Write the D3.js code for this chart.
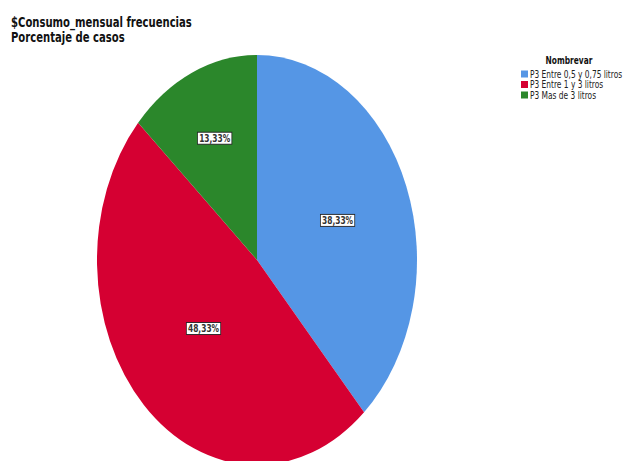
<!DOCTYPE html>
<html lang="es">
<head>
<meta charset="UTF-8">
<title>$Consumo_mensual frecuencias</title>
<script src="https://d3js.org/d3.v7.min.js"></script>
<style>
  body { margin: 0; background: #fff; }
  svg text { font-family: "DejaVu Sans Condensed", "DejaVu Sans", sans-serif; }
</style>
</head>
<body>
<script>
// data
const categories = ['P3 Entre 0,5 y 0,75 litros', 'P3 Entre 1 y 3 litros', 'P3 Mas de 3 litros'];
const percents = [38.33, 48.33, 13.33];
const colors = ['#5596e5', '#d50032', '#2b872b'];
const titleLines = ['$Consumo_mensual frecuencias', 'Porcentaje de casos'];
const legendTitle = 'Nombrevar';

const W = 627, H = 461;
const cx = 257, cy = 260, rx = 160, ry = 205;
const squeeze = 0.83; // narrow the font to look like the original condensed face

const svg = d3.select('body').append('svg')
    .attr('width', W).attr('height', H);

// title
svg.append('g')
    .attr('transform', 'translate(11,0) scale(0.8,1)')
  .selectAll('text')
    .data(titleLines)
  .enter().append('text')
    .attr('x', 0)
    .attr('y', (d, i) => 27 + i * 15)
    .attr('font-size', 14)
    .attr('font-weight', 'bold')
    .attr('fill', '#111')
    .text(d => d);

// pie (drawn as a circle, then stretched vertically)
const data = categories.map((c, i) => ({ cat: c, value: percents[i], color: colors[i] }));
const pie = d3.pie().value(d => d.value).sort(null);
const arcs = pie(data);
const arc = d3.arc().innerRadius(0).outerRadius(rx);

const pieG = svg.append('g')
    .attr('transform', `translate(${cx},${cy}) scale(1,${ry / rx})`);

pieG.selectAll('path')
    .data(arcs)
  .enter().append('path')
    .attr('d', arc)
    .attr('fill', d => d.data.color)
    .attr('stroke', 'none');

// labels near the area centroid of each sector
const fmt = v => v.toFixed(2).replace('.', ',') + '%';
const labelG = svg.append('g');
arcs.forEach(a => {
  const theta = a.endAngle - a.startAngle;
  const f = 0.1 + 0.85 * 4 * Math.sin(theta / 2) / (3 * theta);
  const mid = (a.startAngle + a.endAngle) / 2;
  const x = cx + Math.sin(mid) * rx * f;
  const y = cy - Math.cos(mid) * ry * f;
  const g = labelG.append('g').attr('transform', `translate(${x},${y}) scale(${squeeze},1)`);
  const t = g.append('text')
      .attr('text-anchor', 'middle')
      .attr('dy', '0.36em')
      .attr('font-size', 10)
      .attr('font-weight', 'bold')
      .attr('fill', '#333')
      .text(fmt(a.data.value));
  const bb = t.node().getBBox();
  g.insert('rect', 'text')
      .attr('x', bb.x - 2).attr('y', -6)
      .attr('width', bb.width + 4).attr('height', 12)
      .attr('fill', '#fff')
      .attr('stroke', '#222')
      .attr('stroke-width', 0.9);
});

// legend
const legend = svg.append('g').attr('transform', 'translate(521,0)');
legend.append('text')
    .attr('transform', `translate(48,64) scale(${squeeze},1)`)
    .attr('text-anchor', 'middle')
    .attr('font-size', 10)
    .attr('font-weight', 'bold')
    .attr('fill', '#111')
    .text(legendTitle);

const items = legend.selectAll('.item')
    .data(data)
  .enter().append('g')
    .attr('class', 'item')
    .attr('transform', (d, i) => `translate(0,${70.5 + i * 10.5})`);

items.append('rect')
    .attr('width', 7).attr('height', 7)
    .attr('fill', d => d.color);

items.append('text')
    .attr('transform', `translate(9,7) scale(${squeeze},1)`)
    .attr('font-size', 10)
    .attr('fill', '#222')
    .text(d => d.cat);
</script>
</body>
</html>
